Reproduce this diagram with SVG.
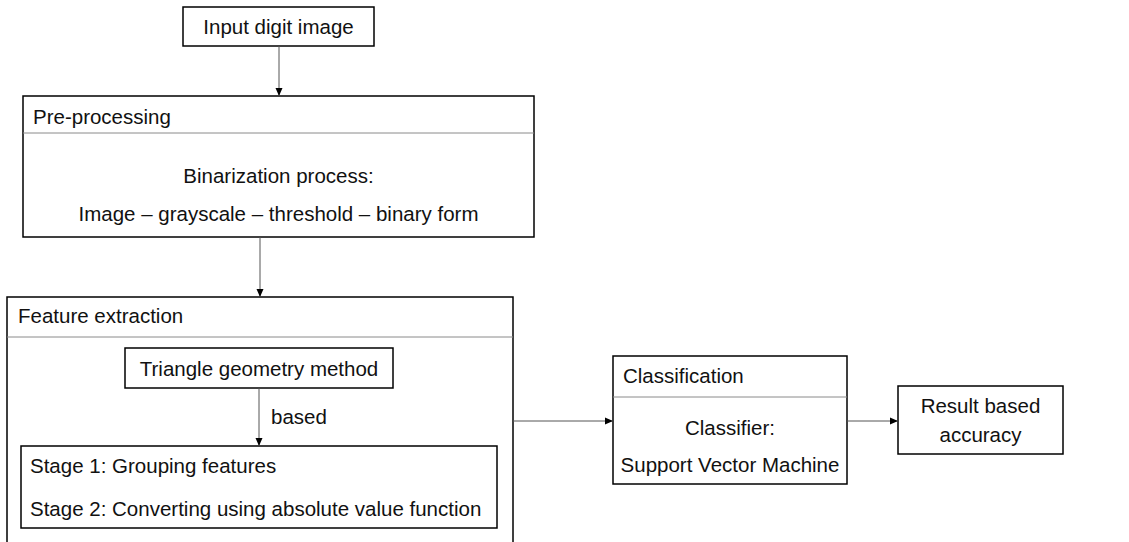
<svg xmlns="http://www.w3.org/2000/svg" width="1129" height="542" viewBox="0 0 1129 542">
<style>
.box{fill:#fff;stroke:#000;stroke-width:1.5}
.div{stroke:#8a8a8a;stroke-width:1}
.con{stroke:#555;stroke-width:1;fill:none;marker-end:url(#ah)}
text{font-family:"Liberation Sans",Arial,sans-serif;font-size:20.5px;fill:#111}
.c{text-anchor:middle}
</style>
<defs>
<marker id="ah" viewBox="0 0 8 8" refX="8" refY="4" markerWidth="8" markerHeight="8" markerUnits="userSpaceOnUse" orient="auto">
<path d="M0,0.5 L8,4 L0,7.5 Z" fill="#000"/>
</marker>
</defs>
<rect width="1129" height="542" fill="#fff"/>
<g id="input">
<rect class="box" x="183" y="7" width="191" height="39"/>
<text class="c" x="278.5" y="34">Input digit image</text>
</g>
<g id="preprocessing">
<rect class="box" x="23" y="96" width="511" height="141"/>
<line class="div" x1="23" y1="133" x2="534" y2="133"/>
<text x="33" y="124">Pre-processing</text>
<text class="c" x="278.5" y="183">Binarization process:</text>
<text class="c" x="278.5" y="221">Image – grayscale – threshold – binary form</text>
</g>
<g id="feature">
<rect class="box" x="7" y="297" width="506" height="260"/>
<line class="div" x1="7" y1="337" x2="513" y2="337"/>
<text x="18" y="323">Feature extraction</text>
</g>
<g id="triangle">
<rect class="box" x="125" y="348" width="268" height="40"/>
<text class="c" x="259" y="376">Triangle geometry method</text>
</g>
<g id="stages">
<rect class="box" x="21" y="446" width="476" height="82"/>
<text x="30" y="473">Stage 1: Grouping features</text>
<text x="30" y="516">Stage 2: Converting using absolute value function</text>
</g>
<g id="classification">
<rect class="box" x="613" y="356" width="234" height="128"/>
<line class="div" x1="613" y1="397" x2="847" y2="397"/>
<text x="623" y="383">Classification</text>
<text class="c" x="730" y="435">Classifier:</text>
<text class="c" x="730" y="472">Support Vector Machine</text>
</g>
<g id="result">
<rect class="box" x="898" y="386" width="165" height="68"/>
<text class="c" x="980.5" y="413">Result based</text>
<text class="c" x="980.5" y="442">accuracy</text>
</g>
<g id="connectors">
<line class="con" x1="279" y1="46" x2="279" y2="96"/>
<line class="con" x1="260" y1="237" x2="260" y2="297"/>
<line class="con" x1="259" y1="388" x2="259" y2="446"/>
<line class="con" x1="513" y1="421" x2="613" y2="421"/>
<line class="con" x1="847" y1="421" x2="898" y2="421"/>
<text x="271" y="424">based</text>
</g>
</svg>
